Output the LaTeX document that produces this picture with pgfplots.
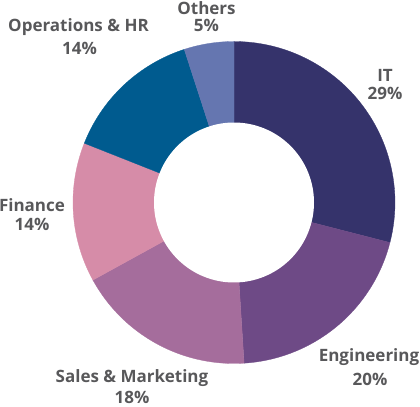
\documentclass[border=0pt]{standalone}
\usepackage{pgfplots}
\pgfplotsset{compat=1.18}
\usepackage{fontspec}
\setmainfont{Open Sans}
\definecolor{cIT}{HTML}{35336B}
\definecolor{cEng}{HTML}{6E4A86}
\definecolor{cSal}{HTML}{A56D9C}
\definecolor{cFin}{HTML}{D68CA8}
\definecolor{cOps}{HTML}{005B8F}
\definecolor{cOth}{HTML}{6576B0}
\definecolor{txt}{HTML}{58585A}
% slice: colour, cumulative start (%), share (%)
\newcommand{\slice}[3]{%
  \addplot[fill=#1, draw=#1, line width=0.3pt, domain={90-3.6*(#2+#3)}:{90-3.6*(#2)}, samples=90, variable=\t]
    ({234+161*cos(\t)},{204.5+161*sin(\t)}) -- (axis cs:234,204.5) -- cycle;}
\begin{document}
\begin{tikzpicture}
\begin{axis}[hide axis, scale only axis, width=420bp, height=407bp,
  xmin=0, xmax=420, ymin=0, ymax=407, clip=false]
\slice{cIT}{0}{29}
\slice{cEng}{29}{20}
\slice{cSal}{49}{18}
\slice{cFin}{67}{14}
\slice{cOps}{81}{14}
\slice{cOth}{95}{5}
\addplot[fill=white, draw=none, domain=0:360, samples=180, variable=\t]
  ({234+80*cos(\t)},{204.5+80*sin(\t)}) -- cycle;
\begin{scope}[every node/.style={anchor=base, text=txt, font=\bfseries\fontsize{17bp}{20bp}\selectfont, inner sep=0pt}]
\node at (axis cs:206.5,392) {Others};
\node at (axis cs:206.5,375) {5\%};
\node at (axis cs:78.5,375) {Operations \& HR};
\node at (axis cs:79.5,352) {14\%};
\node at (axis cs:385,325) {IT};
\node at (axis cs:385,307) {29\%};
\node at (axis cs:32,195.5) {Finance};
\node at (axis cs:32,176) {14\%};
\node at (axis cs:132,25) {Sales \& Marketing};
\node at (axis cs:132,3.5) {18\%};
\node at (axis cs:369,45) {Engineering};
\node at (axis cs:370,22) {20\%};
\end{scope}
\end{axis}
\pgfresetboundingbox
\useasboundingbox (0,0) rectangle (420bp,407bp);
\end{tikzpicture}
\end{document}
